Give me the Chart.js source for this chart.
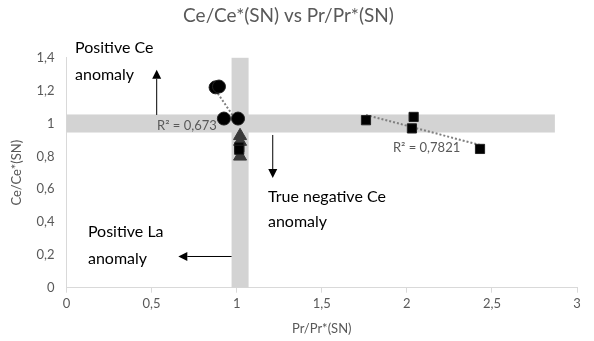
<!DOCTYPE html>
<html><head><meta charset="utf-8">
<script src="https://cdn.jsdelivr.net/npm/chart.js@4"></script>
<style>html,body{margin:0;padding:0;background:#fff;}#wrap{width:594px;height:341px;}</style>
</head><body><div id="wrap"><canvas id="c" width="594" height="341"></canvas></div>
<script>
// ---- data ----
const circleX = [0.876, 0.896, 0.925, 1.008];
const circleY = [1.22, 1.225, 1.03, 1.03];
const squareX = [1.76, 2.04, 2.03, 2.43];
const squareY = [1.02, 1.04, 0.97, 0.845];
const midSquareX = [1.015, 1.015];
const midSquareY = [0.855, 0.84];
const triangleX = [1.02, 1.02, 1.02];
const triangleY = [0.925, 0.89, 0.80];
const xTickLabels = ['0', '0,5', '1', '1,5', '2', '2,5', '3'];
const yTickLabels = ['0', '0,2', '0,4', '0,6', '0,8', '1', '1,2', '1,4'];
const r2Labels = ['R² = 0,673', 'R² = 0,7821'];
const titleText = 'Ce/Ce*(SN) vs Pr/Pr*(SN)';
const xTitle = 'Pr/Pr*(SN)';
const yTitle = 'Ce/Ce*(SN)';

// reference bands (data units)
const bands = [
  {x0: 0.97, x1: 1.07, y0: 0, y1: 1.4},
  {x0: 0, x1: 2.87, y0: 0.945, y1: 1.055}
];
// annotation texts (data units, left/middle anchored)
const notes = [
  {t: 'Positive Ce', x: 0.05, y: 1.46, c: '#000', s: 16},
  {t: 'anomaly', x: 0.05, y: 1.296, c: '#000', s: 16},
  {t: 'True negative Ce', x: 1.184, y: 0.553, c: '#000', s: 16},
  {t: 'anomaly', x: 1.184, y: 0.40, c: '#000', s: 16},
  {t: 'Positive La', x: 0.126, y: 0.34, c: '#000', s: 16},
  {t: 'anomaly', x: 0.126, y: 0.175, c: '#000', s: 16},
  {t: r2Labels[0], x: 0.532, y: 0.985, c: '#595959', s: 13},
  {t: r2Labels[1], x: 1.918, y: 0.851, c: '#595959', s: 13}
];
const arrows = [
  {x0: 0.53, y0: 1.052, x1: 0.53, y1: 1.327},
  {x0: 1.212, y0: 0.93, x1: 1.212, y1: 0.668},
  {x0: 0.97, y0: 0.19, x1: 0.657, y1: 0.19}
];

function pts(xs, ys) { return xs.map((x, i) => ({x: x, y: ys[i]})); }
function trend(xs, ys) {
  const n = xs.length;
  const mx = xs.reduce((a, b) => a + b, 0) / n, my = ys.reduce((a, b) => a + b, 0) / n;
  let sxy = 0, sxx = 0;
  for (let i = 0; i < n; i++) { sxy += (xs[i] - mx) * (ys[i] - my); sxx += (xs[i] - mx) ** 2; }
  const b = sxy / sxx, a = my - b * mx;
  const lo = Math.min(...xs), hi = Math.max(...xs);
  return [{x: lo, y: a + b * lo}, {x: hi, y: a + b * hi}];
}

const FONT = 'Lato, "Open Sans", sans-serif';

const bandPlugin = {
  id: 'bands',
  beforeDatasetsDraw(chart) {
    const {ctx, scales: {x, y}} = chart;
    ctx.save();
    ctx.fillStyle = '#d3d3d3';
    bands.forEach(b => {
      const l = x.getPixelForValue(b.x0), r = x.getPixelForValue(b.x1);
      const t = y.getPixelForValue(b.y1), bt = y.getPixelForValue(b.y0);
      ctx.fillRect(l, t, r - l, bt - t);
    });
    ctx.restore();
  }
};
const notePlugin = {
  id: 'notes',
  afterDatasetsDraw(chart) {
    const {ctx, scales: {x, y}} = chart;
    ctx.save();
    ctx.textBaseline = 'middle';
    ctx.textAlign = 'left';
    notes.forEach(n => {
      ctx.font = n.s + 'px ' + FONT;
      ctx.fillStyle = n.c;
      ctx.fillText(n.t, x.getPixelForValue(n.x), y.getPixelForValue(n.y));
    });
    ctx.strokeStyle = '#000'; ctx.fillStyle = '#000'; ctx.lineWidth = 1;
    arrows.forEach(a => {
      const px0 = x.getPixelForValue(a.x0), py0 = y.getPixelForValue(a.y0);
      const px1 = x.getPixelForValue(a.x1), py1 = y.getPixelForValue(a.y1);
      const ang = Math.atan2(py1 - py0, px1 - px0);
      const L = 9, W = 4.5;
      const bx = px1 - L * Math.cos(ang), by = py1 - L * Math.sin(ang);
      ctx.beginPath(); ctx.moveTo(px0, py0); ctx.lineTo(bx, by); ctx.stroke();
      ctx.beginPath();
      ctx.moveTo(px1, py1);
      ctx.lineTo(bx - W * Math.sin(ang), by + W * Math.cos(ang));
      ctx.lineTo(bx + W * Math.sin(ang), by - W * Math.cos(ang));
      ctx.closePath(); ctx.fill();
    });
    ctx.restore();
  }
};

const trendStyle = {type: 'line', borderColor: '#7f7f7f', borderWidth: 2, borderDash: [2, 2], pointRadius: 0, fill: false, showLine: true};
const mk = {backgroundColor: '#000', borderColor: '#222', borderWidth: 1, showLine: false};

new Chart(document.getElementById('c'), {
  type: 'scatter',
  data: {
    datasets: [
      Object.assign({label: 'trend1', data: trend(circleX, circleY), order: 5}, trendStyle),
      Object.assign({label: 'trend2', data: trend(squareX, squareY), order: 5}, trendStyle),
      Object.assign({label: 'circles', data: pts(circleX, circleY), pointStyle: 'circle', pointRadius: 6.5, order: 1}, mk),
      Object.assign({label: 'squares', data: pts(squareX, squareY), pointStyle: 'rect', pointRadius: 6.5, order: 1}, mk),
      Object.assign({label: 'squares2', data: pts(midSquareX, midSquareY), pointStyle: 'rect', pointRadius: 6.5, order: 0}, mk),
      Object.assign({label: 'triangles', data: pts(triangleX, triangleY), pointStyle: 'triangle', pointRadius: 7.5, order: 1, backgroundColor: '#3a3a3a', borderColor: '#3a3a3a'})
    ]
  },
  options: {
    responsive: false,
    animation: false,
    events: [],
    layout: {padding: {left: 0, right: 17, top: 0, bottom: 0}},
    plugins: {
      legend: {display: false},
      tooltip: {enabled: false},
      title: {display: true, text: titleText, color: '#595959', font: {family: FONT, size: 19, weight: 'normal'}, padding: {top: 4, bottom: 31}}
    },
    scales: {
      x: {
        type: 'linear', min: 0, max: 3,
        afterFit: s => { s.height = 53.3; },
        afterBuildTicks: s => { s.ticks = xTickLabels.map((_, i) => ({value: i * 0.5})); },
        ticks: {color: '#595959', font: {family: FONT, size: 13}, padding: 3, maxRotation: 0, callback: (v, i) => xTickLabels[i]},
        grid: {display: true, drawOnChartArea: false, drawTicks: true, tickLength: 5, color: '#d9d9d9'},
        border: {display: true, color: '#d9d9d9', width: 1},
        title: {display: true, text: xTitle, color: '#595959', font: {family: FONT, size: 13}, padding: {top: 2}}
      },
      y: {
        type: 'linear', min: 0, max: 1.4,
        afterFit: s => { s.width = 66.5; },
        afterBuildTicks: s => { s.ticks = yTickLabels.map((_, i) => ({value: i * 0.2})); },
        ticks: {color: '#595959', font: {family: FONT, size: 13}, padding: 12, callback: (v, i) => yTickLabels[i]},
        grid: {display: false, drawTicks: false},
        border: {display: true, color: '#d9d9d9', width: 1},
        title: {display: true, text: yTitle, color: '#595959', font: {family: FONT, size: 13}, padding: {top: 9, bottom: 4}}
      }
    }
  },
  plugins: [bandPlugin, notePlugin]
});
</script>
</body></html>
